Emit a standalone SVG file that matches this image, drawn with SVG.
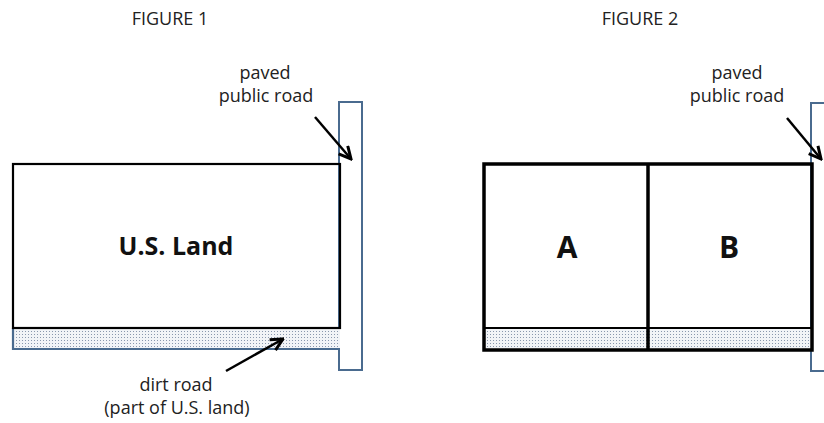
<svg xmlns="http://www.w3.org/2000/svg" width="824" height="423" viewBox="0 0 824 423">
<style>
.lbl{font-family:"Open Sans","Liberation Sans",sans-serif;font-size:18px;fill:#222;text-anchor:middle}
.big{font-family:"Open Sans","Liberation Sans",sans-serif;font-weight:bold;fill:#111;text-anchor:middle}
.road{fill:#fff;stroke:#4a6b8f;stroke-width:2}
.land{fill:none;stroke:#000;stroke-width:2.2}
.land2{fill:none;stroke:#000;stroke-width:3.5}
.arrow{stroke:#000;stroke-width:2.5;fill:none;marker-end:url(#ah)}
</style>
<defs>
<pattern id="dots" width="3" height="3" patternUnits="userSpaceOnUse">
<rect width="3" height="3" fill="#f2f4f7"/>
<rect x="1" y="1" width="1" height="1" fill="#8a98ad"/>
</pattern>
<marker id="ah" viewBox="0 0 10 10" refX="9" refY="5" markerWidth="6" markerHeight="6" orient="auto" markerUnits="strokeWidth">
<path d="M1,1 L9,5 L1,9" fill="none" stroke="#000" stroke-width="2"/>
</marker>
</defs>
<rect width="824" height="423" fill="#fff"/>

<g id="figure1">
<text class="lbl" x="170" y="25">FIGURE 1</text>
<g id="road1">
<rect class="road" x="339" y="102" width="23" height="268"/>
</g>
<g id="dirt1">
<rect x="13" y="328" width="327" height="21" fill="url(#dots)"/>
<path d="M13,328 V349 H340" fill="none" stroke="#4a6b8f" stroke-width="2.2"/>
</g>
<g id="land1">
<rect class="land" x="13" y="164" width="327" height="164"/>
<text class="big" x="176" y="255" font-size="25">U.S. Land</text>
</g>
<g id="label-paved1">
<text class="lbl" x="265" y="79">paved</text>
<text class="lbl" x="266" y="102">public road</text>
</g>
<g id="label-dirt">
<text class="lbl" x="176" y="391">dirt road</text>
<text class="lbl" x="177" y="414">(part of U.S. land)</text>
</g>
</g>

<g id="figure2">
<text class="lbl" x="640" y="25">FIGURE 2</text>
<g id="road2">
<rect class="road" x="811" y="103" width="30" height="268"/>
</g>
<g id="dirt2">
<rect x="484" y="328" width="328" height="22" fill="url(#dots)"/>
<line x1="484" y1="328" x2="812" y2="328" stroke="#000" stroke-width="2"/>
</g>
<g id="parcelA">
<text class="big" x="567" y="258" font-size="30">A</text>
</g>
<g id="parcelB">
<text class="big" x="729" y="258" font-size="30">B</text>
</g>
<g id="land2">
<rect class="land2" x="484" y="164" width="328" height="186"/>
<line x1="648" y1="164" x2="648" y2="350" stroke="#000" stroke-width="3.5"/>
</g>
<g id="label-paved2">
<text class="lbl" x="737" y="79">paved</text>
<text class="lbl" x="737" y="102">public road</text>
</g>
</g>

<g id="connectors">
<line class="arrow" x1="315" y1="117" x2="351" y2="159"/>
<line class="arrow" x1="787" y1="118" x2="821" y2="159"/>
<line class="arrow" x1="226" y1="371" x2="283" y2="339"/>
</g>
</svg>
